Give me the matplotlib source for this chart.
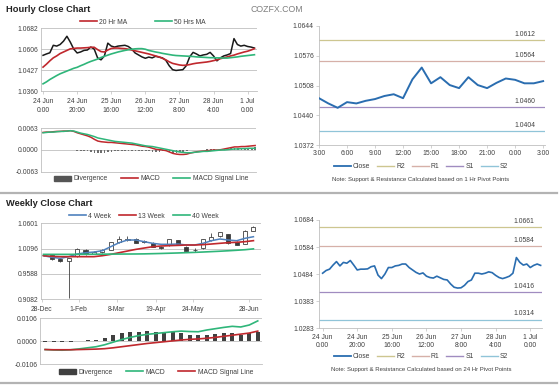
import numpy as np
import matplotlib
matplotlib.use('Agg')
import matplotlib.pyplot as plt
from matplotlib.lines import Line2D
from matplotlib.patches import Patch

plt.rcParams['font.family'] = ['Liberation Sans', 'DejaVu Sans']

# ---------------- data ----------------
# hourly (2-hour steps), 24 Jun 0:00 -> 1 Jul
hr_bars = list(range(0, 125, 2))
hr_close = [1.0543, 1.0550, 1.0556, 1.0594, 1.0590, 1.0598, 1.0615, 1.0640, 1.0610, 1.0575,
            1.0555, 1.0560, 1.0568, 1.0570, 1.0585, 1.0575, 1.0530, 1.0520, 1.0540, 1.0605,
            1.0590, 1.0585, 1.0590, 1.0592, 1.0594, 1.0588, 1.0575, 1.0555, 1.0545, 1.0535,
            1.0528, 1.0534, 1.0530, 1.0538, 1.0534, 1.0530, 1.0518, 1.0490, 1.0470, 1.0466,
            1.0468, 1.0470, 1.0490, 1.0535, 1.0558, 1.0550, 1.0540, 1.0545, 1.0548, 1.0558,
            1.0540, 1.0515, 1.0530, 1.0540, 1.0545, 1.0552, 1.0628, 1.0598, 1.0590, 1.0594,
            1.0588, 1.0585, 1.0580]
hr_ma20 = [1.0483, 1.0498, 1.0515, 1.0530, 1.0540, 1.0552, 1.0560, 1.0568, 1.0576, 1.0578,
           1.0580, 1.0580, 1.0581, 1.0582, 1.0584, 1.0584, 1.0572, 1.0562, 1.0560, 1.0570,
           1.0578, 1.0580, 1.0580, 1.0578, 1.0577, 1.0574, 1.0570, 1.0566, 1.0562, 1.0558,
           1.0554, 1.0550, 1.0545, 1.0540, 1.0535, 1.0528, 1.0520, 1.0510, 1.0502, 1.0498,
           1.0494, 1.0492, 1.0493, 1.0496, 1.0500, 1.0503, 1.0505, 1.0507, 1.0509, 1.0512,
           1.0516, 1.0520, 1.0526, 1.0530, 1.0535, 1.0540, 1.0544, 1.0550, 1.0555, 1.0560,
           1.0564, 1.0570, 1.0577]
hr_ma50 = [1.0398, 1.0408, 1.0420, 1.0430, 1.0440, 1.0449, 1.0456, 1.0463, 1.0470, 1.0477,
           1.0482, 1.0490, 1.0497, 1.0505, 1.0512, 1.0518, 1.0524, 1.0532, 1.0538, 1.0544,
           1.0550, 1.0555, 1.0560, 1.0564, 1.0568, 1.0571, 1.0574, 1.0576, 1.0577, 1.0577,
           1.0574, 1.0568, 1.0564, 1.0560, 1.0557, 1.0553, 1.0550, 1.0547, 1.0544, 1.0542,
           1.0541, 1.0540, 1.0539, 1.0538, 1.0537, 1.0535, 1.0534, 1.0533, 1.0532, 1.0531,
           1.0531, 1.0530, 1.0530, 1.0529, 1.0529, 1.0531, 1.0533, 1.0535, 1.0538, 1.0540,
           1.0542, 1.0544, 1.0546]
hr_macd = [0.0051, 0.0052, 0.0052, 0.0053, 0.0054, 0.0054, 0.0055, 0.0055, 0.0056, 0.0054,
           0.0050, 0.0047, 0.0044, 0.0041, 0.0037, 0.0031, 0.0026, 0.0024, 0.0023, 0.0022,
           0.0022, 0.0021, 0.0020, 0.0019, 0.0018, 0.0017, 0.0016, 0.0015, 0.0013, 0.0011,
           0.0010, 0.0008, 0.0005, 0.0002, 0.0001, 0.0000, -0.0002, -0.0006, -0.0010, -0.0012,
           -0.0013, -0.0013, -0.0012, -0.0009, -0.0007, -0.0005, -0.0004, -0.0003, -0.0002, -0.0001,
           0.0000, 0.0000, 0.0001, 0.0003, 0.0005, 0.0007, 0.0009, 0.0009, 0.0010, 0.0010,
           0.0011, 0.0012, 0.0013]
hr_signal = [0.0050, 0.0051, 0.0052, 0.0052, 0.0053, 0.0054, 0.0054, 0.0055, 0.0056, 0.0055,
             0.0052, 0.0049, 0.0047, 0.0045, 0.0042, 0.0039, 0.0035, 0.0033, 0.0031, 0.0029,
             0.0027, 0.0025, 0.0024, 0.0023, 0.0022, 0.0021, 0.0020, 0.0018, 0.0016, 0.0014,
             0.0012, 0.0011, 0.0010, 0.0008, 0.0006, 0.0004, 0.0002, 0.0000, -0.0002, -0.0004,
             -0.0006, -0.0007, -0.0008, -0.0008, -0.0007, -0.0006, -0.0005, -0.0004, -0.0004, -0.0003,
             -0.0002, -0.0001, 0.0000, 0.0000, 0.0001, 0.0002, 0.0003, 0.0003, 0.0004, 0.0004,
             0.0005, 0.0005, 0.0005]
hr_div = [0.0001, 0.0001, 0.0000, 0.0001, 0.0001, 0.0000, 0.0001, 0.0000, 0.0000, -0.0001,
          -0.0002, -0.0002, -0.0003, -0.0004, -0.0005, -0.0008, -0.0009, -0.0009, -0.0008, -0.0007,
          -0.0005, -0.0004, -0.0004, -0.0004, -0.0004, -0.0004, -0.0004, -0.0003, -0.0003, -0.0003,
          -0.0002, -0.0003, -0.0005, -0.0006, -0.0005, -0.0004, -0.0004, -0.0006, -0.0008, -0.0008,
          -0.0007, -0.0006, -0.0004, -0.0001, 0.0000, 0.0001, 0.0001, 0.0001, 0.0002, 0.0002,
          0.0002, 0.0001, 0.0001, 0.0003, 0.0004, 0.0005, 0.0006, 0.0006, 0.0006, 0.0006,
          0.0006, 0.0007, 0.0008]
hr_xlabels = ['24 Jun\n0:00', '24 Jun\n20:00', '25 Jun\n16:00', '26 Jun\n12:00',
              '27 Jun\n8:00', '28 Jun\n4:00', '1 Jul\n0:00']
hr_yticklabels = ['1.0360', '1.0427', '1.0606', '1.0682']

# last day, hourly close with 1 Hr pivots
day_hours = list(range(25))
day_close = [1.0479, 1.0467, 1.0457, 1.0470, 1.0467, 1.0473, 1.0477, 1.0484, 1.0488, 1.0479,
             1.0522, 1.0549, 1.0513, 1.0527, 1.0509, 1.0502, 1.0527, 1.0509, 1.0502, 1.0514,
             1.0524, 1.0521, 1.0513, 1.0513, 1.0518]
day_xlabels = ['3:00', '6:00', '9:00', '12:00', '15:00', '18:00', '21:00', '0:00', '3:00']
day_yticklabels = ['1.0372', '1.0440', '1.0508', '1.0576', '1.0644']
day_pivots = [1.0612, 1.0564, 1.0460, 1.0404]
day_pivot_labels = ['1.0612', '1.0564', '1.0460', '1.0404']

# week, hourly close with 24 Hr pivots
wk_hr_bars = list(range(0, 127, 2))
wk_hr_close = [1.0487, 1.0497, 1.0502, 1.0517, 1.0530, 1.0514, 1.0527, 1.0524, 1.0534, 1.0517,
               1.0499, 1.0502, 1.0502, 1.0503, 1.0511, 1.0514, 1.0480, 1.0467, 1.0484, 1.0508,
               1.0508, 1.0514, 1.0516, 1.0521, 1.0521, 1.0508, 1.0499, 1.0490, 1.0484, 1.0488,
               1.0476, 1.0471, 1.0469, 1.0476, 1.0470, 1.0464, 1.0462, 1.0447, 1.0435, 1.0432,
               1.0433, 1.0442, 1.0456, 1.0462, 1.0487, 1.0487, 1.0484, 1.0487, 1.0492, 1.0489,
               1.0479, 1.0471, 1.0467, 1.0471, 1.0476, 1.0487, 1.0545, 1.0527, 1.0517, 1.0521,
               1.0508, 1.0516, 1.0521, 1.0516]
wk_hr_yticklabels = ['1.0283', '1.0383', '1.0484', '1.0584', '1.0684']
wk_hr_pivots = [1.0658, 1.0586, 1.0416, 1.0315]
wk_hr_pivot_labels = ['1.0661', '1.0584', '1.0416', '1.0314']

# weekly candles
wk_idx = list(range(26))
wk_open = [0.9975, 0.9961, 0.9890, 0.9847, 0.9941, 1.0061, 0.9987, 1.0021, 1.0073, 1.0227,
           1.0263, 1.0293, 1.0240, 1.0213, 1.0130, 1.0167, 1.0267, 1.0133, 1.0070, 1.0101,
           1.0267, 1.0341, 1.0380, 1.0230, 1.0195, 1.0450]
wk_close = [0.9960, 0.9883, 0.9847, 0.9905, 1.0087, 0.9987, 1.0033, 1.0073, 1.0221, 1.0287,
            1.0290, 1.0210, 1.0226, 1.0133, 1.0115, 1.0281, 1.0187, 1.0053, 1.0063, 1.0281,
            1.0333, 1.0420, 1.0205, 1.0170, 1.0455, 1.0530]
wk_high = [0.9985, 0.9975, 0.9900, 0.9915, 1.0110, 1.0090, 1.0040, 1.0085, 1.0235, 1.0341,
           1.0340, 1.0300, 1.0270, 1.0225, 1.0150, 1.0290, 1.0275, 1.0145, 1.0110, 1.0295,
           1.0401, 1.0430, 1.0390, 1.0240, 1.0465, 1.0545]
wk_low = [0.9950, 0.9865, 0.9830, 0.9110, 0.9930, 0.9970, 0.9980, 1.0015, 1.0065, 1.0215,
          1.0240, 1.0200, 1.0200, 1.0120, 1.0090, 1.0155, 1.0175, 1.0040, 1.0020, 1.0090,
          1.0255, 1.0330, 1.0190, 1.0160, 1.0185, 1.0440]
wk_ma4 = [0.9953, 0.9921, 0.9901, 0.9934, 0.9987, 1.0013, 1.0027, 1.0053, 1.0133, 1.0213,
          1.0267, 1.0267, 1.0233, 1.0201, 1.0181, 1.0181, 1.0187, 1.0167, 1.0167, 1.0201,
          1.0253, 1.0287, 1.0267, 1.0253, 1.0301, 1.0333]
wk_ma13 = [0.9953, 0.9941, 0.9934, 0.9934, 0.9934, 0.9934, 0.9934, 0.9953, 0.9980, 1.0013,
           1.0047, 1.0080, 1.0107, 1.0133, 1.0147, 1.0154, 1.0160, 1.0167, 1.0167, 1.0174,
           1.0187, 1.0201, 1.0214, 1.0221, 1.0234, 1.0254]
wk_ma40 = [0.9980, 0.9980, 0.9980, 0.9980, 0.9981, 0.9982, 0.9983, 0.9984, 0.9985, 0.9986,
           0.9987, 0.9988, 0.9990, 0.9994, 0.9998, 1.0003, 1.0008, 1.0014, 1.0020, 1.0027,
           1.0035, 1.0043, 1.0052, 1.0062, 1.0073, 1.0090]
wk_div = [-0.0002, -0.0002, -0.0002, -0.0002, 0.0003, 0.0008, 0.0008, 0.0017, 0.0028, 0.0036,
          0.0041, 0.0044, 0.0047, 0.0044, 0.0041, 0.0041, 0.0036, 0.0031, 0.0028, 0.0031,
          0.0033, 0.0036, 0.0036, 0.0031, 0.0036, 0.0044]
wk_macd = [-0.0038, -0.0040, -0.0041, -0.0039, -0.0035, -0.0030, -0.0025, -0.0016, -0.0004, 0.0008,
           0.0018, 0.0026, 0.0032, 0.0036, 0.0040, 0.0044, 0.0047, 0.0045, 0.0044, 0.0052,
           0.0058, 0.0064, 0.0069, 0.0066, 0.0075, 0.0094]
wk_signal = [-0.0038, -0.0039, -0.0039, -0.0039, -0.0038, -0.0037, -0.0036, -0.0034, -0.0030, -0.0025,
             -0.0020, -0.0015, -0.0010, -0.0006, -0.0002, 0.0002, 0.0006, 0.0009, 0.0011, 0.0014,
             0.0018, 0.0023, 0.0028, 0.0033, 0.0038, 0.0047]
wk_xlabels = ['28-Dec', '1-Feb', '8-Mar', '19-Apr', '24-May', '28-Jun']
wk_yticklabels = ['0.9082', '0.9588', '1.0096', '1.0601']

# ---------------- styling ----------------
W, H = 560, 386
GRID = '#bfbfbf'
TXT = '#404040'
RED = '#c0282d'
GREEN = '#2fb67a'
BLUE = '#4f81bd'
CLOSE = '#2a6db0'
PIV = ['#cdc690', '#d6b0a8', '#a08cc0', '#90c4d8']
FS = 4.9

fig = plt.figure(figsize=(5.6, 3.86), dpi=100)


def add_ax(l, t, r, b):
    return fig.add_axes([l / W, 1 - b / H, (r - l) / W, (b - t) / H])


def style(ax, grid=True):
    for s in ['top', 'right']:
        ax.spines[s].set_visible(False)
    for s in ['left', 'bottom']:
        ax.spines[s].set_color(GRID)
        ax.spines[s].set_linewidth(0.6)
    ax.tick_params(labelsize=FS, labelcolor=TXT, color=GRID, length=2, width=0.5, pad=1.8)
    if grid:
        ax.yaxis.grid(True, color=GRID, lw=0.6)
        ax.set_axisbelow(True)


def legend(handles, labels, cx, cy, ncol, sp=2.0):
    fig.legend(handles, labels, loc='center', bbox_to_anchor=(cx / W, 1 - cy / H), ncol=ncol,
               frameon=False, fontsize=FS, handlelength=2.5, handletextpad=0.3,
               columnspacing=sp, labelcolor=TXT)


# titles
fig.text(6 / W, 1 - 9 / H, 'Hourly Close Chart', fontsize=6.7, fontweight='bold', va='center', color='#222222')
fig.text(6 / W, 1 - 203 / H, 'Weekly Close Chart', fontsize=6.7, fontweight='bold', va='center', color='#222222')
fig.text(277 / W, 1 - 10 / H, 'COZFX.COM', fontsize=6.3, ha='center', va='center', color='#7f7f7f')

# separators
for y in [193, 383]:
    fig.add_artist(Line2D([0, 557 / W], [1 - y / H, 1 - y / H], color='#b3b3b3', lw=1.6))

# ---- hourly price ----
ax = add_ax(41, 28, 257, 91.3)
style(ax)
ax.plot(hr_bars, hr_close, color='#1a1a1a', lw=1.1, zorder=3)
ax.plot(hr_bars, hr_ma20, color=RED, lw=1.2, zorder=4)
ax.plot(hr_bars, hr_ma50, color=GREEN, lw=1.2, zorder=4)
ax.set_xlim(-1.2, 125.5)
ax.set_ylim(1.0360, 1.0682)
ax.set_yticks(np.linspace(1.0360, 1.0682, 4))
ax.set_yticklabels(hr_yticklabels)
ax.set_xticks(range(0, 121, 20))
ax.set_xticklabels(hr_xlabels, linespacing=1.3)
ax.tick_params(axis='y', length=0)
ax.tick_params(axis='x', pad=3)
legend([Line2D([], [], color=RED, lw=1.2), Line2D([], [], color=GREEN, lw=1.2)],
       ['20 Hr MA', '50 Hrs MA'], 143, 22, 2, sp=4)

# ---- hourly MACD ----
ax = add_ax(41, 128.3, 256, 171.7)
style(ax)
ax.bar(hr_bars, hr_div, width=1.0, color='#6e6e6e', zorder=2)
ax.plot(hr_bars, hr_macd, color=RED, lw=1.1, zorder=3)
ax.plot(hr_bars, hr_signal, color=GREEN, lw=1.1, zorder=3)
ax.set_xlim(-1.2, 124.5)
ax.set_ylim(-0.0063, 0.0063)
ax.set_yticks([-0.0063, 0.0, 0.0063])
ax.set_yticklabels(['-0.0063', '0.0000', '0.0063'])
ax.set_xticks([])
ax.tick_params(axis='y', length=0)
legend([Patch(color='#555555'), Line2D([], [], color=RED, lw=1.2), Line2D([], [], color=GREEN, lw=1.2)],
       ['Divergence', 'MACD', 'MACD Signal Line'], 151, 179, 3, sp=2.0)

# ---- last day ----
ax = add_ax(319, 26, 545, 145)
style(ax, grid=False)
for v, c, t in zip(day_pivots, PIV, day_pivot_labels):
    ax.axhline(v, color=c, lw=0.9, zorder=1)
    ax.text(23.2, v + 0.0004, t, ha='right', va='bottom', fontsize=FS, color=TXT)
ax.plot(day_hours, day_close, color=CLOSE, lw=1.4, zorder=3)
ax.set_xlim(0, 24.2)
ax.set_ylim(1.0372, 1.0644)
ax.set_yticks(np.linspace(1.0372, 1.0644, 5))
ax.set_yticklabels(day_yticklabels)
ax.set_xticks(range(0, 25, 3))
ax.set_xticklabels(day_xlabels)
legend([Line2D([], [], color=CLOSE, lw=1.3)] + [Line2D([], [], color=c, lw=1.0) for c in PIV],
       ['Close', 'R2', 'R1', 'S1', 'S2'], 421, 167, 5, sp=1.0)
fig.text(421 / W, 1 - 180 / H, 'Note: Support & Resistance Calculated based on 1 Hr Pivot Points',
         fontsize=4.3, ha='center', va='center', color=TXT)

# ---- weekly candles ----
ax = add_ax(41, 223.3, 261, 299.3)
style(ax)
for i, o, c, hi, lo in zip(wk_idx, wk_open, wk_close, wk_high, wk_low):
    ax.vlines(i, lo, hi, color='#404040', lw=0.6, zorder=3)
    ax.bar(i, max(abs(c - o), 0.0006), bottom=min(o, c), width=0.48,
           color='white' if c >= o else '#3a3a3a', edgecolor='#404040', lw=0.6, zorder=4)
ax.plot(wk_idx, wk_ma4, color=BLUE, lw=1.1, zorder=5)
ax.plot(wk_idx, wk_ma13, color=RED, lw=1.2, zorder=5)
ax.plot(wk_idx, wk_ma40, color=GREEN, lw=1.2, zorder=5)
ax.set_xlim(-0.3, 25.9)
ax.set_ylim(0.9082, 1.0601)
ax.set_yticks(np.linspace(0.9082, 1.0601, 4))
ax.set_yticklabels(wk_yticklabels)
ax.set_xticks([-0.2, 4.2, 8.7, 13.4, 17.8, 24.5])
ax.set_xticklabels(wk_xlabels)
ax.tick_params(axis='y', length=0)
ax.tick_params(axis='x', pad=3)
legend([Line2D([], [], color=BLUE, lw=1.2), Line2D([], [], color=RED, lw=1.2),
        Line2D([], [], color=GREEN, lw=1.2)],
       ['4 Week', '13 Week', '40 Week'], 144, 216, 3, sp=1.2)

# ---- weekly MACD ----
ax = add_ax(40, 318.3, 262, 364.3)
style(ax)
ax.bar(wk_idx, wk_div, width=0.45, color='#404040', zorder=2)
ax.plot(wk_idx, wk_macd, color=GREEN, lw=1.2, zorder=3)
ax.plot(wk_idx, wk_signal, color=RED, lw=1.2, zorder=3)
ax.set_xlim(-0.6, 25.5)
ax.set_ylim(-0.0106, 0.0106)
ax.set_yticks([-0.0106, 0.0, 0.0106])
ax.set_yticklabels(['-0.0106', '0.0000', '0.0106'])
ax.set_xticks([])
ax.tick_params(axis='y', length=0)
legend([Patch(color='#404040'), Line2D([], [], color=GREEN, lw=1.2), Line2D([], [], color=RED, lw=1.2)],
       ['Divergence', 'MACD', 'MACD Signal Line'], 156, 372, 3, sp=2.0)

# ---- week hourly with 24 Hr pivots ----
ax = add_ax(319, 220, 542, 328.3)
style(ax, grid=False)
for v, c, t in zip(wk_hr_pivots, PIV, wk_hr_pivot_labels):
    ax.axhline(v, color=c, lw=0.9, zorder=1)
    ax.text(122.5, v + 0.0008, t, ha='right', va='bottom', fontsize=FS, color=TXT)
ax.plot(wk_hr_bars, wk_hr_close, color=CLOSE, lw=1.2, zorder=3)
ax.set_xlim(-2.1, 126.8)
ax.set_ylim(1.0283, 1.0684)
ax.set_yticks(np.linspace(1.0283, 1.0684, 5))
ax.set_yticklabels(wk_hr_yticklabels)
ax.set_xticks(range(0, 121, 20))
ax.set_xticklabels(hr_xlabels, linespacing=1.3)
legend([Line2D([], [], color=CLOSE, lw=1.3)] + [Line2D([], [], color=c, lw=1.0) for c in PIV],
       ['Close', 'R2', 'R1', 'S1', 'S2'], 421, 357, 5, sp=1.0)
fig.text(421 / W, 1 - 370 / H, 'Note: Support & Resistance Calculated based on 24 Hr Pivot Points',
         fontsize=4.3, ha='center', va='center', color=TXT)

fig.savefig('out.png', dpi=100, facecolor='white')
